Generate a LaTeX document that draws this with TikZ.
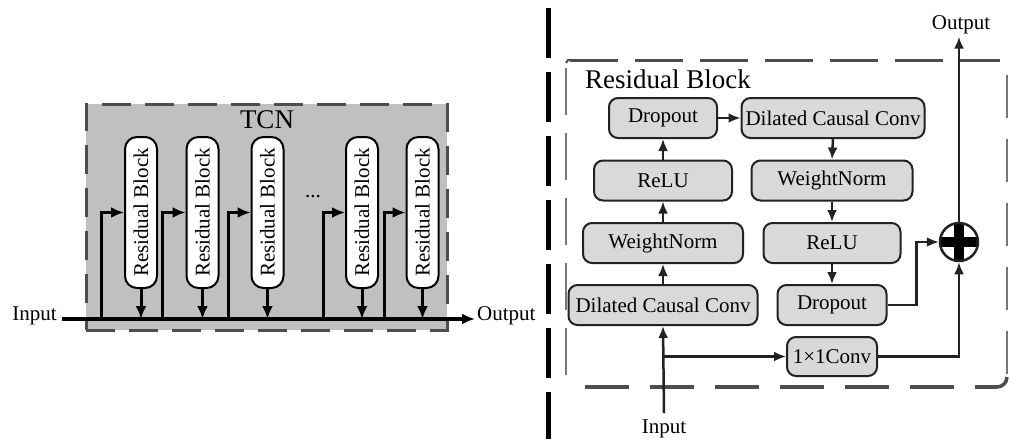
\documentclass[tikz,border=0pt]{standalone}
\usepackage{fontspec}
\setmainfont{Liberation Serif}
\usetikzlibrary{arrows.meta,calc}
\definecolor{tcnfill}{HTML}{C0C0C0}
\definecolor{boxfill}{HTML}{D9D9D9}
\definecolor{edgecol}{HTML}{222222}
\definecolor{dashcol}{HTML}{4D4D4D}
\definecolor{thincol}{HTML}{777777}
\newcommand{\fsA}{\fontsize{21}{25}\selectfont}
\newcommand{\fsB}{\fontsize{27}{31}\selectfont}
\tikzset{
  rblock/.style={draw=black, line width=2pt, fill=white, rounded corners=12pt,
    minimum width=151pt, minimum height=32pt, inner sep=0pt, rotate=90, font=\fsA},
  rbox/.style={draw=edgecol, line width=2pt, fill=boxfill, rounded corners=9pt,
    minimum height=40pt, inner sep=0pt, font=\fsA},
  lbl/.style={inner sep=0pt, font=\fsA},
  arrL/.style={line width=3pt, -{Latex[length=13pt,width=11pt]}},
  arrR/.style={line width=2.5pt, draw=edgecol, -{Latex[length=12pt,width=10pt]}},
}
\begin{document}
\begin{tikzpicture}[x=1pt,y=-1pt]
\useasboundingbox (0,0) rectangle (1009,439);

% ---------------- Left: TCN ----------------
\node[draw=dashcol, line width=3pt, dash pattern=on 29pt off 14pt, fill=tcnfill,
      minimum width=361pt, minimum height=226pt, inner sep=0pt] (tcn) at (266.5,217) {};
\node[inner sep=0pt, font=\fsB, anchor=base] (tcnlbl) at (267,128) {TCN};

\node[rblock] (b1) at (141,212.5) {Residual Block};
\node[rblock] (b2) at (202.5,212.5) {Residual Block};
\node[rblock] (b3) at (267.5,212.5) {Residual Block};
\node[rblock] (b4) at (362,212.5) {Residual Block};
\node[rblock] (b5) at (422.5,212.5) {Residual Block};
\node[lbl] (dots) at (313,197) {...};

\node[lbl, anchor=base east] (inL) at (57,320) {Input};
\node[lbl, anchor=base west] (outL) at (477,320) {Output};
\coordinate (ls) at (62,319);
\coordinate (le) at (475,319);
\draw[line width=3.5pt, -{Latex[length=13pt,width=11pt]}] (ls) -- (le);

\coordinate (u1) at (101,319);
\coordinate (u2) at (162,319);
\coordinate (u3) at (228,319);
\coordinate (u4) at (323,319);
\coordinate (u5) at (384,319);
\draw[arrL] (u1) |- (b1.north);
\draw[arrL] (u2) |- (b2.north);
\draw[arrL] (u3) |- (b3.north);
\draw[arrL] (u4) |- (b4.north);
\draw[arrL] (u5) |- (b5.north);
\draw[arrL] (b1.west) -- (b1.west |- ls);
\draw[arrL] (b2.west) -- (b2.west |- ls);
\draw[arrL] (b3.west) -- (b3.west |- ls);
\draw[arrL] (b4.west) -- (b4.west |- ls);
\draw[arrL] (b5.west) -- (b5.west |- ls);

% ---------------- Separator ----------------
\draw[line width=5pt, dash pattern=on 50pt off 14pt] (548,8) -- (548,439);

% ---------------- Right: Residual Block ----------------
\draw[line width=3pt, draw=dashcol, dash pattern=on 48pt off 17pt] (570,60) -- (1000,60);
\draw[line width=2pt, draw=dashcol] (572,60) -- (568,60) -- (566,63);
\draw[line width=1.5pt, draw=thincol, dash pattern=on 47pt off 18pt] (566,68) -- (566,380);
\draw[line width=1.5pt, draw=thincol, dash pattern=on 43pt off 21pt] (1007,75) -- (1007,377);
\draw[line width=3.5pt, draw=dashcol, dash pattern=on 44pt off 21pt] (585,387) -- (997,387);
\draw[line width=3.5pt, draw=dashcol] (975,387) -- (997,387) arc[start angle=-90, end angle=0, radius=10pt];
\node[inner sep=0pt, font=\fsB, anchor=base west] (rbt) at (585,88) {Residual Block};

\node[rbox, minimum width=108pt] (d1) at (663,118) {Dropout};
\node[rbox, minimum width=138pt] (r1) at (663,180.5) {ReLU};
\node[rbox, minimum width=160pt] (w1) at (663,243) {WeightNorm};
\node[rbox, minimum width=189pt] (c1) at (663,305) {Dilated Causal Conv};
\node[rbox, minimum width=183pt] (c2) at (833,118) {Dilated Causal Conv};
\node[rbox, minimum width=161pt] (w2) at (832,180.5) {WeightNorm};
\node[rbox, minimum width=137pt] (r2) at (832,243) {ReLU};
\node[rbox, minimum width=109pt] (d2) at (832,305) {Dropout};
\node[rbox, minimum width=90pt, minimum height=39pt] (cv) at (832,356.5) {1×1Conv};

\node[circle, draw=edgecol, line width=2.5pt, fill=white, minimum size=38pt, inner sep=0pt,
  path picture={
    \fill[black] ($(path picture bounding box.center)+(-5,-20)$) rectangle ($(path picture bounding box.center)+(5,20)$);
    \fill[black] ($(path picture bounding box.center)+(-20,-5)$) rectangle ($(path picture bounding box.center)+(20,5)$);
  }] (sum) at (959,242) {};

\node[lbl, anchor=base] (rin) at (664,433) {Input};
\node[lbl, anchor=base] (rout) at (961,29) {Output};

\path (rin.north) ++(0,-6) coordinate (rinTop);
\draw[arrR] (rinTop) -- (c1.south);
\coordinate (br) at (663,356.5);
\draw[arrR] (br) -- (cv.west);
\draw[arrR] (c1.north) -- (w1.south);
\draw[arrR] (w1.north) -- (r1.south);
\draw[arrR] (r1.north) -- (d1.south);
\draw[arrR] (d1.east) -- (c2.west);
\draw[arrR] (c2.south) -- (w2.north);
\draw[arrR] (w2.south) -- (r2.north);
\draw[arrR] (r2.south) -- (d2.north);
\draw[arrR] (d2.east) -- ++(29,0) |- (sum.west);
\draw[arrR] (cv.east) -| (sum.south);
\path (sum.north |- rout.south) ++(0,3) coordinate (otip);
\draw[arrR] (sum.north) -- (otip);
\end{tikzpicture}
\end{document}
